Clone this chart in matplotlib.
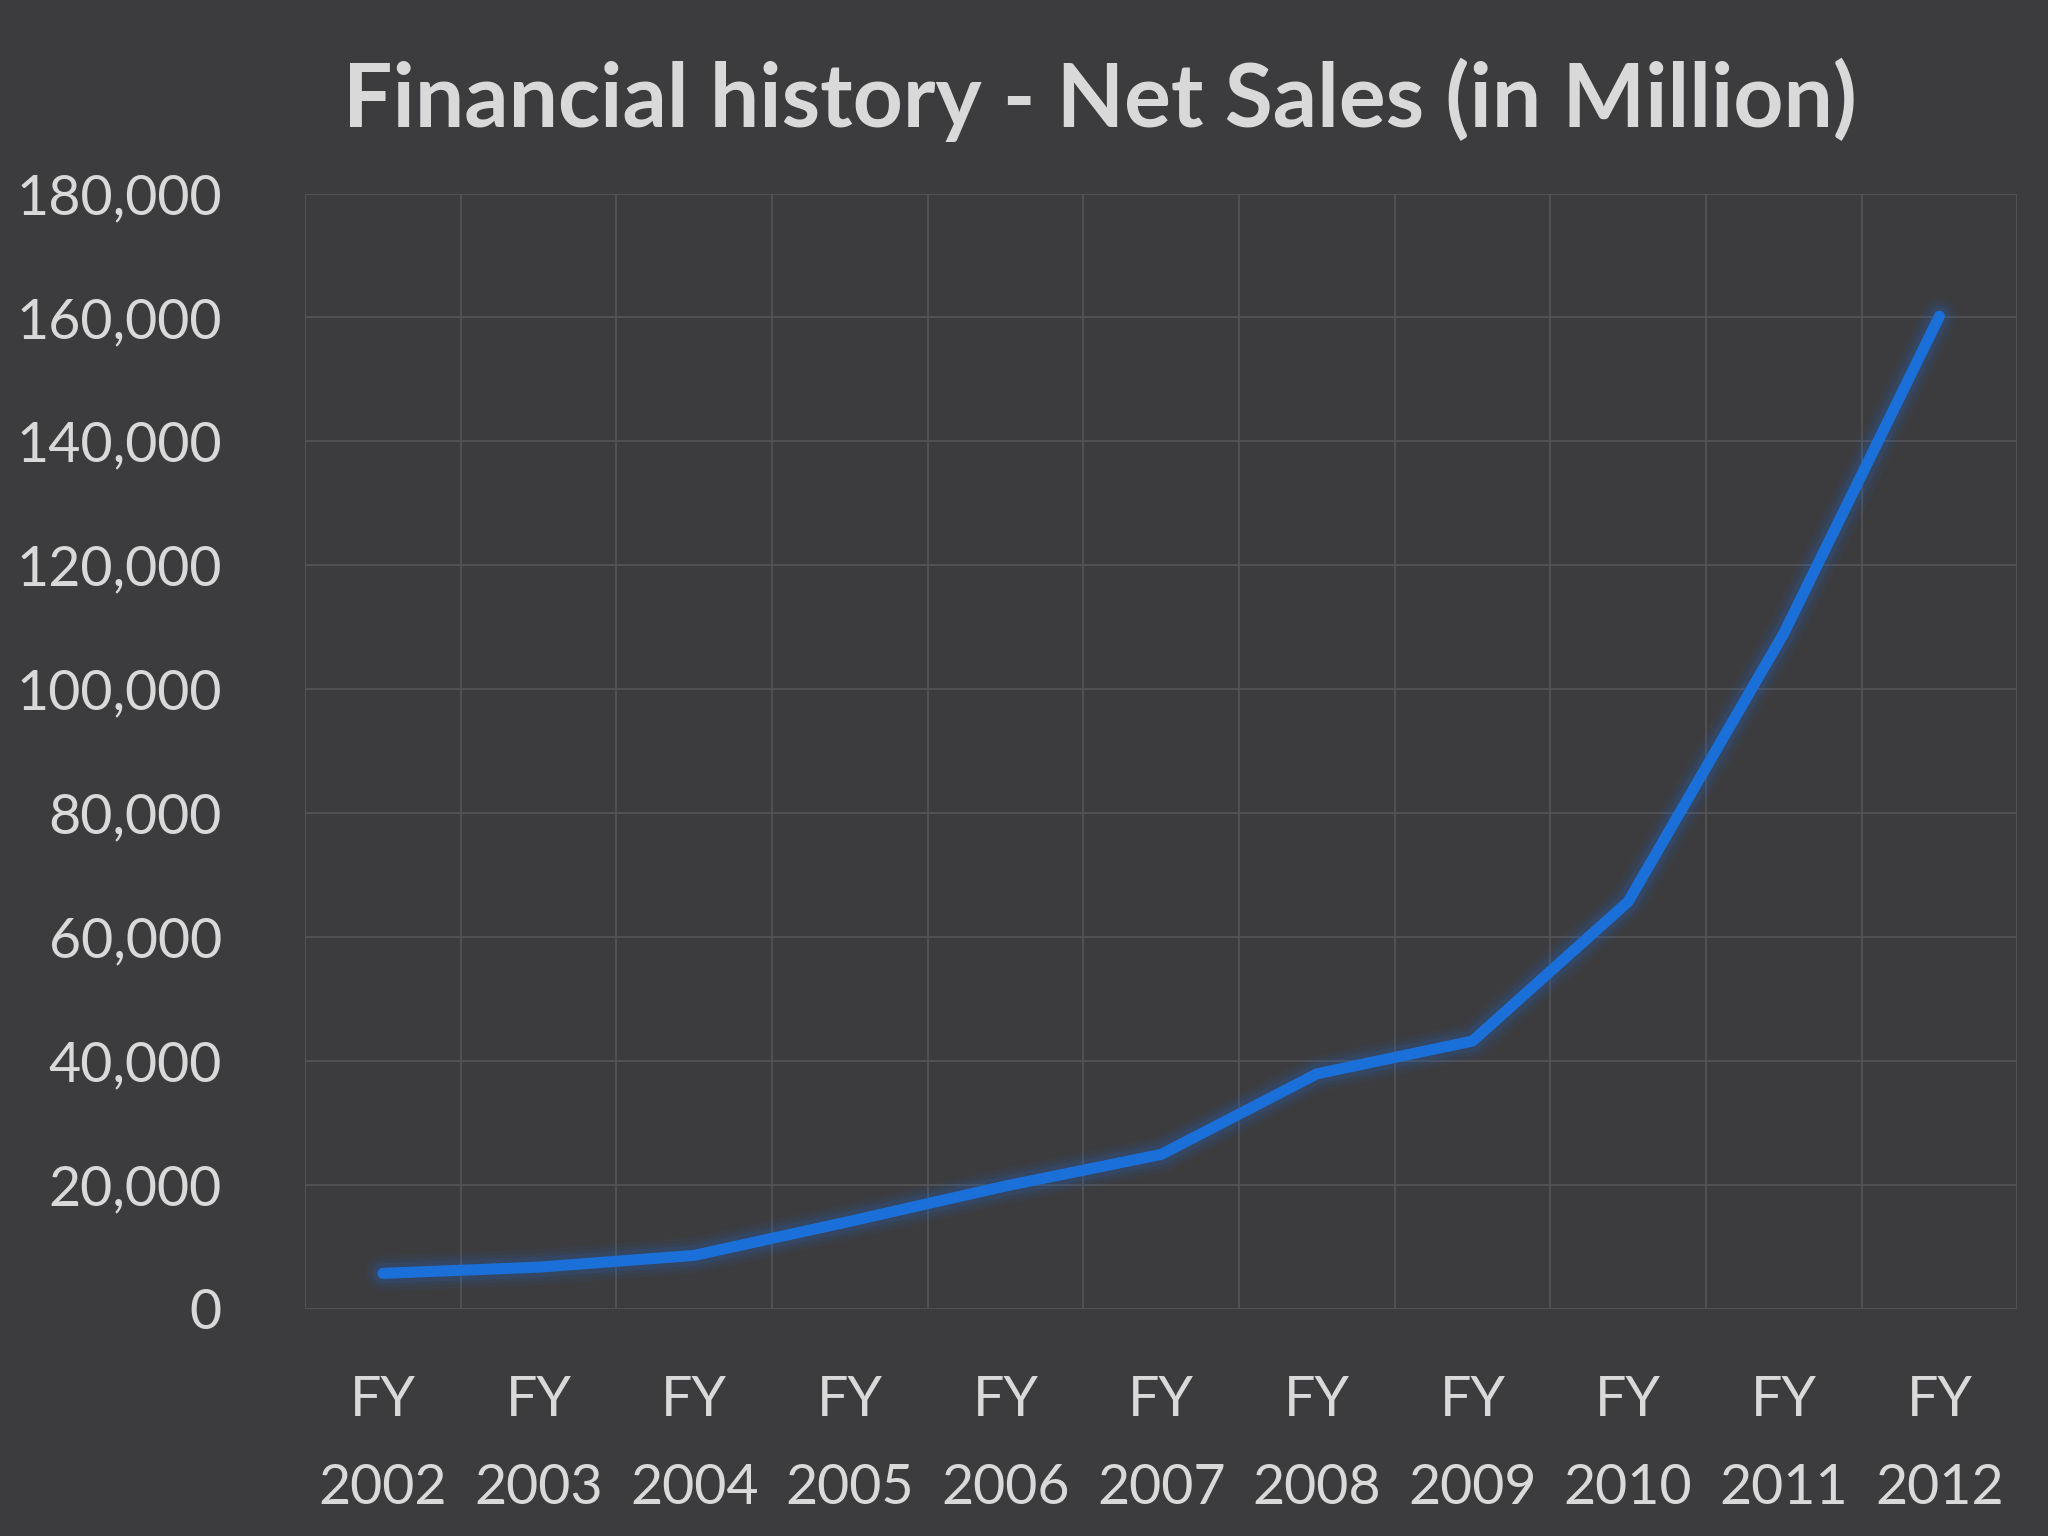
import matplotlib
matplotlib.use("Agg")
import matplotlib.pyplot as plt

years = ["2002", "2003", "2004", "2005", "2006", "2007", "2008", "2009", "2010", "2011", "2012"]
net_sales = [5700, 6700, 8600, 14100, 19800, 24900, 37900, 43200, 65700, 109000, 160200]
yticks = list(range(0, 180001, 20000))

BG = "#3c3c3e"
TXT = "#d9d9d9"
plt.rcParams["font.family"] = ["Lato", "DejaVu Sans"]

fig = plt.figure(figsize=(20.48, 15.36), dpi=100, facecolor=BG)
ax = fig.add_axes([0.149, 0.148, 0.836, 0.726])
ax.set_facecolor(BG)

x = list(range(len(years)))
for lw, a in [(26, 0.06), (20, 0.08), (15, 0.12)]:
    ax.plot(x, net_sales, color="#1f6fd6", lw=lw, alpha=a, solid_capstyle="round")
ax.plot(x, net_sales, color="#1a6fd8", lw=8, solid_capstyle="round", solid_joinstyle="round")

ax.set_xlim(-0.5, len(years) - 0.5)
ax.set_ylim(0, 180000)
ax.set_yticks(yticks)
ax.set_yticklabels([f"{v:,}" for v in yticks])
ax.set_xticks(x)
ax.set_xticklabels([f"FY\n{y}" for y in years], linespacing=1.9)
ax.set_xticks([i - 0.5 for i in range(len(years) + 1)], minor=True)
ax.grid(False)
ax.grid(True, which="minor", axis="x", color="#555557", lw=1.2)
ax.grid(True, which="major", axis="y", color="#555557", lw=1.2)
ax.tick_params(axis="both", which="both", length=0, colors=TXT, labelsize=40)
ax.tick_params(axis="x", pad=48)
ax.tick_params(axis="y", pad=60)
for s in ax.spines.values():
    s.set_visible(False)

fig.text(0.537, 0.935, "Financial history - Net Sales (in Million)", ha="center", va="center",
         color=TXT, fontsize=63, fontweight="bold")

fig.savefig("out.png", dpi=100, facecolor=BG)
